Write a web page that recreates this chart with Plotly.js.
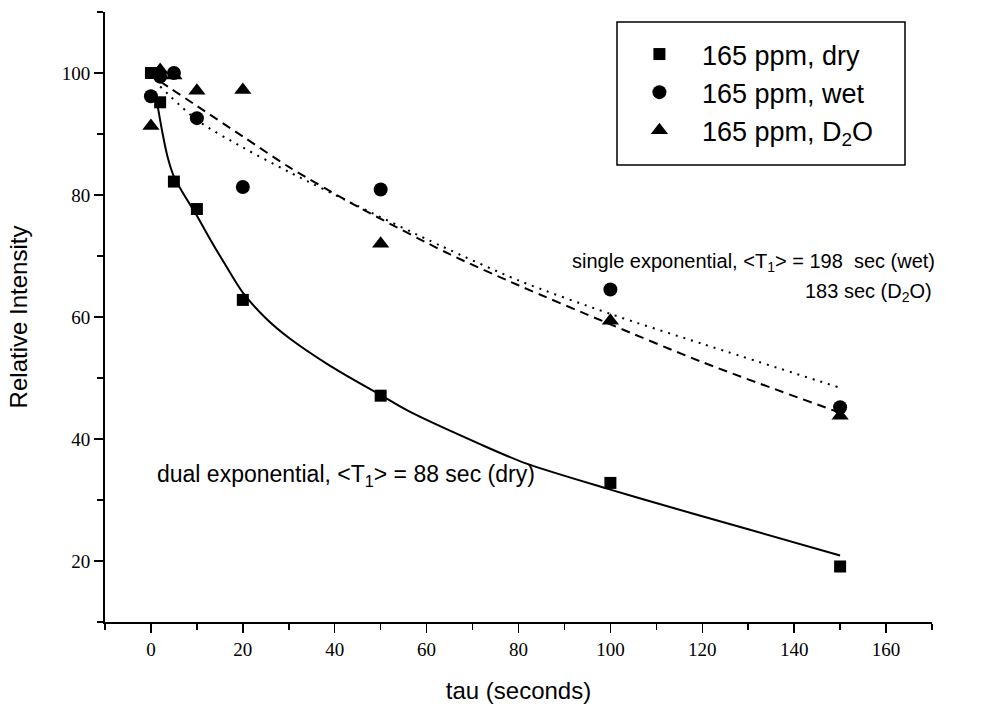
<!DOCTYPE html>
<html>
<head>
<meta charset="utf-8">
<script src="https://cdn.plot.ly/plotly-3.0.1.min.js"></script>
<style>html,body{margin:0;padding:0;background:#fff;}#chart{width:983px;height:706px;}</style>
</head>
<body>
<div id="chart"></div>
<script>
// measured data
const tau = [0, 2, 5, 10, 20, 50, 100, 150];
const dry = [100, 95.2, 82.2, 77.7, 62.8, 47.1, 32.8, 19.1];
const wet = [96.2, 99.4, 100, 92.6, 81.3, 80.9, 64.5, 45.2];
const d2o = [91.3, 100.5, 99.6, 97.1, 97.2, 72.0, 59.4, 43.8];

// fitted curves
const dualFitX = [1.3, 2.5, 3.6, 5, 7, 10, 13, 16, 20, 25, 30, 39, 50, 56, 71.5, 81.6, 100, 109, 130, 150];
const dualFitY = [95.3, 90.2, 86.3, 83.0, 80.3, 76.6, 72.6, 68.8, 64.0, 59.8, 56.6, 52.0, 47.2, 44.6, 39.2, 36.0, 31.7, 29.7, 25.2, 20.9];
const wetFitX = [2, 10, 20, 30, 45, 63, 80, 100, 120, 150];
const wetFitY = [97.8, 92.3, 87.8, 83.8, 78.2, 71.7, 66.0, 60.5, 55.6, 48.4];
const d2oFitX = [2, 10, 20, 30, 45, 65, 80, 100, 120, 150];
const d2oFitY = [98.6, 94.6, 89.6, 84.6, 78.1, 70.3, 65.2, 58.8, 52.6, 44.3];

const xTicks = [0, 20, 40, 60, 80, 100, 120, 140, 160];
const yTicks = [20, 40, 60, 80, 100];

const traces = [
  {x: dualFitX, y: dualFitY, mode: 'lines', line: {color: '#000', width: 2, shape: 'spline', smoothing: 0.8}, showlegend: false, hoverinfo: 'skip'},
  {x: wetFitX, y: wetFitY, mode: 'lines', line: {color: '#000', width: 2, dash: '2px,6px', shape: 'spline', smoothing: 0.8}, showlegend: false, hoverinfo: 'skip'},
  {x: d2oFitX, y: d2oFitY, mode: 'lines', line: {color: '#000', width: 2, dash: '9px,6px', shape: 'spline', smoothing: 0.8}, showlegend: false, hoverinfo: 'skip'},
  {x: tau, y: dry, mode: 'markers', name: '165 ppm, dry', legendgroup: 'a', marker: {symbol: 'square', size: 12, color: '#000'}},
  {x: tau, y: wet, mode: 'markers', name: '165 ppm, wet', legendgroup: 'b', marker: {symbol: 'circle', size: 14, color: '#000'}},
  {x: tau, y: d2o, mode: 'markers', name: '165 ppm, D<sub>2</sub>O', legendgroup: 'c', marker: {symbol: 'triangle-up', size: 15, color: '#000'}}
];

const axisFont = {family: 'Liberation Serif, Times New Roman, serif', size: 19, color: '#000'};
const layout = {
  width: 983, height: 706,
  margin: {l: 105, r: 51, t: 12, b: 84},
  paper_bgcolor: '#fff', plot_bgcolor: '#fff',
  font: {family: 'Liberation Sans, Arial, sans-serif', color: '#000'},
  xaxis: {
    range: [-10, 170], tickvals: xTicks, ticktext: xTicks.map(String),
    showgrid: false, zeroline: false, showline: true, linecolor: '#000', linewidth: 2,
    ticks: 'outside', ticklen: 9, tickwidth: 1.5, tickcolor: '#000', tickfont: axisFont,
    minor: {dtick: 10, tick0: -10, ticks: 'outside', ticklen: 6, tickwidth: 1.5, tickcolor: '#000', showgrid: false},
    title: {text: 'tau (seconds)', font: {size: 24, family: 'Liberation Sans, Arial, sans-serif'}, standoff: 23}
  },
  yaxis: {
    range: [10, 110], tickvals: yTicks, ticktext: yTicks.map(String),
    showgrid: false, zeroline: false, showline: true, linecolor: '#000', linewidth: 2,
    ticks: 'outside', ticklen: 9, tickwidth: 1.5, tickcolor: '#000', tickfont: axisFont,
    minor: {dtick: 10, tick0: 10, ticks: 'outside', ticklen: 6, tickwidth: 1.5, tickcolor: '#000', showgrid: false},
    title: {text: 'Relative Intensity', font: {size: 24, family: 'Liberation Sans, Arial, sans-serif'}, standoff: 27}
  },
  showlegend: true,
  legend: {
    x: 0.619, y: (622 - 30) / 610, xanchor: 'left', yanchor: 'top',
    borderwidth: 0, bgcolor: 'rgba(0,0,0,0)',
    font: {size: 27, family: 'Liberation Sans, Arial, sans-serif', color: '#000'},
    tracegroupgap: 0, traceorder: 'grouped', itemwidth: 75
  },
  shapes: [
    {type: 'rect', xref: 'paper', yref: 'paper', layer: 'above',
     x0: (617 - 105) / 827, x1: (905 - 105) / 827, y0: (622 - 165) / 610, y1: (622 - 22) / 610,
     line: {color: '#000', width: 1.5}, fillcolor: 'rgba(0,0,0,0)'}
  ],
  annotations: [
    {xref: 'paper', yref: 'paper', x: (570 - 105) / 827, y: (622 - 262) / 610, xanchor: 'left', yanchor: 'middle', showarrow: false,
     text: 'single exponential, &lt;T<sub>1</sub>&gt; = 198  sec (wet)', font: {size: 20}},
    {xref: 'paper', yref: 'paper', x: (934 - 105) / 827, y: (622 - 292) / 610, xanchor: 'right', yanchor: 'middle', showarrow: false,
     text: '183 sec (D<sub>2</sub>O)', font: {size: 20}},
    {xref: 'paper', yref: 'paper', x: (155 - 105) / 827, y: (622 - 475) / 610, xanchor: 'left', yanchor: 'middle', showarrow: false,
     text: 'dual exponential, &lt;T<sub>1</sub>&gt; = 88 sec (dry)', font: {size: 23}}
  ]
};

Plotly.newPlot('chart', traces, layout, {displayModeBar: false, staticPlot: true});
</script>
</body>
</html>
